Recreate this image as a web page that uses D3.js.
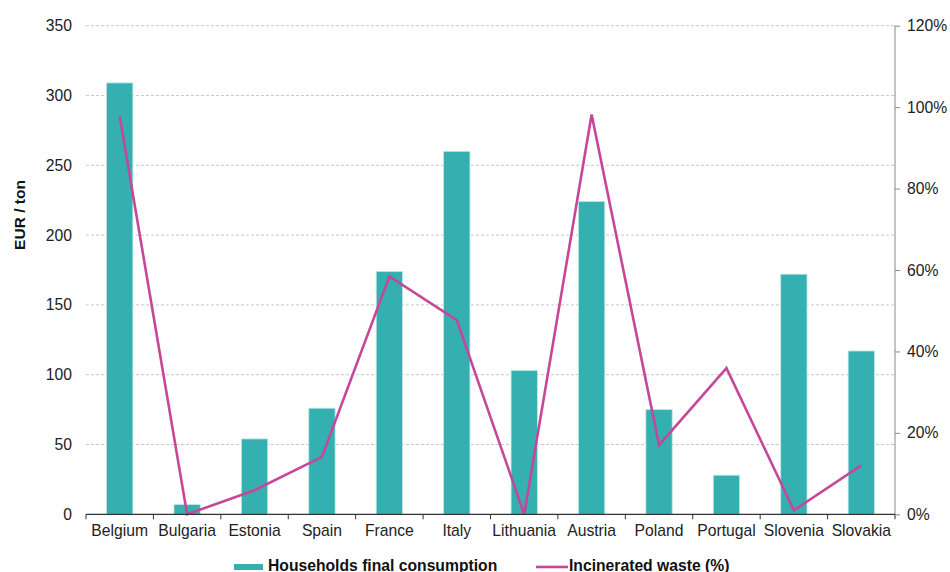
<!DOCTYPE html>
<html>
<head>
<meta charset="utf-8">
<script src="https://cdn.jsdelivr.net/npm/d3@7"></script>
<style>
  html, body { margin: 0; padding: 0; background: #fff; }
  svg { display: block; font-family: "Liberation Sans", Arial, sans-serif; }
</style>
</head>
<body>
<svg id="chart" width="950" height="572"></svg>
<script>
const categories = ["Belgium", "Bulgaria", "Estonia", "Spain", "France", "Italy", "Lithuania", "Austria", "Poland", "Portugal", "Slovenia", "Slovakia"];
const householdsConsumption = [309, 7, 54, 76, 174, 260, 103, 224, 75, 28, 172, 117];
const incineratedWaste = [97.7, 0, 5.9, 14.1, 58.4, 47.7, 0, 98.2, 17, 35.9, 1, 12];
const leftTicks = [0, 50, 100, 150, 200, 250, 300, 350];
const rightTicks = [0, 20, 40, 60, 80, 100, 120];
const seriesNames = ["Households final consumption", "Incinerated waste (%)"];

const svg = d3.select("#chart");
const margin = { left: 86, right: 55, top: 25.7, bottom: 57.7 };
const W = 950, H = 572;
const x0 = margin.left, x1 = W - margin.right;
const yTop = margin.top, yBot = H - margin.bottom;
const FS = 15.7;

const x = d3.scaleBand().domain(categories).range([x0, x1]).paddingInner(0.61).paddingOuter(0.305);
const xb = d3.scaleBand().domain(categories).range([x0, x1]);
const yL = d3.scaleLinear().domain([0, 350]).range([yBot, yTop]);
const yR = d3.scaleLinear().domain([0, 120]).range([yBot, yTop]);

// gridlines
svg.append("g").selectAll("line").data(leftTicks.filter(d => d > 0)).join("line")
  .attr("x1", x0).attr("x2", x1)
  .attr("y1", d => yL(d)).attr("y2", d => yL(d))
  .attr("stroke", "#c8c8c8").attr("stroke-width", 1).attr("stroke-dasharray", "3,2");

// bars
svg.append("g").selectAll("rect").data(categories).join("rect")
  .attr("x", d => x(d))
  .attr("width", x.bandwidth())
  .attr("y", (d, i) => yL(householdsConsumption[i]))
  .attr("height", (d, i) => yBot - yL(householdsConsumption[i]))
  .attr("fill", "#33b0af")
  .attr("stroke", "#bfe6e5").attr("stroke-width", 0.8);

// line
const line = d3.line()
  .x((d, i) => xb(categories[i]) + xb.bandwidth() / 2)
  .y(d => yR(d));
svg.append("path").datum(incineratedWaste)
  .attr("d", line)
  .attr("fill", "none")
  .attr("stroke", "#c6479a").attr("stroke-width", 2.6).attr("stroke-linejoin", "miter");

// left axis (labels only)
svg.append("g").selectAll("text").data(leftTicks).join("text")
  .attr("x", 72).attr("y", d => yL(d)).attr("dy", "0.35em")
  .attr("text-anchor", "end").attr("font-size", FS).attr("fill", "#222")
  .text(d => d);

// right axis
const rAxis = d3.axisRight(yR).tickValues(rightTicks).tickSize(5).tickFormat(d => d + "%");
const rg = svg.append("g").attr("transform", `translate(${x1},0)`).call(rAxis);
rg.select(".domain").attr("stroke", "#888").attr("d", `M0,${yTop}V${yBot}`);
rg.selectAll(".tick line").attr("stroke", "#888");
rg.selectAll(".tick text").attr("font-size", FS).attr("fill", "#222")
  .attr("font-family", "Liberation Sans, Arial, sans-serif").attr("x", 12);

// bottom axis
const bAxis = d3.axisBottom(xb).tickSize(0).tickPadding(11);
const bg = svg.append("g").attr("transform", `translate(0,${yBot})`).call(bAxis);
bg.select(".domain").attr("stroke", "#333").attr("stroke-width", 1.2).attr("d", `M${x0},0H${x1}`);
bg.selectAll(".tick text").attr("font-size", FS).attr("fill", "#222")
  .attr("font-family", "Liberation Sans, Arial, sans-serif");
// boundary tick marks
const bounds = categories.map(c => xb(c)).concat([x1]);
bg.append("g").selectAll("line").data(bounds).join("line")
  .attr("x1", d => d).attr("x2", d => d).attr("y1", 0).attr("y2", 5)
  .attr("stroke", "#333").attr("stroke-width", 1);

// y axis title
svg.append("text")
  .attr("transform", `translate(25,${215}) rotate(-90)`)
  .attr("text-anchor", "middle").attr("font-size", 15.5).attr("font-weight", "bold").attr("fill", "#111")
  .text("EUR / ton");

// legend
const lg = svg.append("g");
lg.append("rect").attr("x", 234).attr("y", 564).attr("width", 29).attr("height", 6).attr("fill", "#33b0af");
lg.append("text").attr("x", 268).attr("y", 570.5).attr("font-size", FS).attr("font-weight", "bold").attr("fill", "#111")
  .text(seriesNames[0]);
lg.append("line").attr("x1", 536).attr("x2", 568).attr("y1", 567).attr("y2", 567)
  .attr("stroke", "#c6479a").attr("stroke-width", 2.6);
lg.append("text").attr("x", 569).attr("y", 570.5).attr("font-size", FS).attr("font-weight", "bold").attr("fill", "#111")
  .text(seriesNames[1]);
</script>
</body>
</html>
